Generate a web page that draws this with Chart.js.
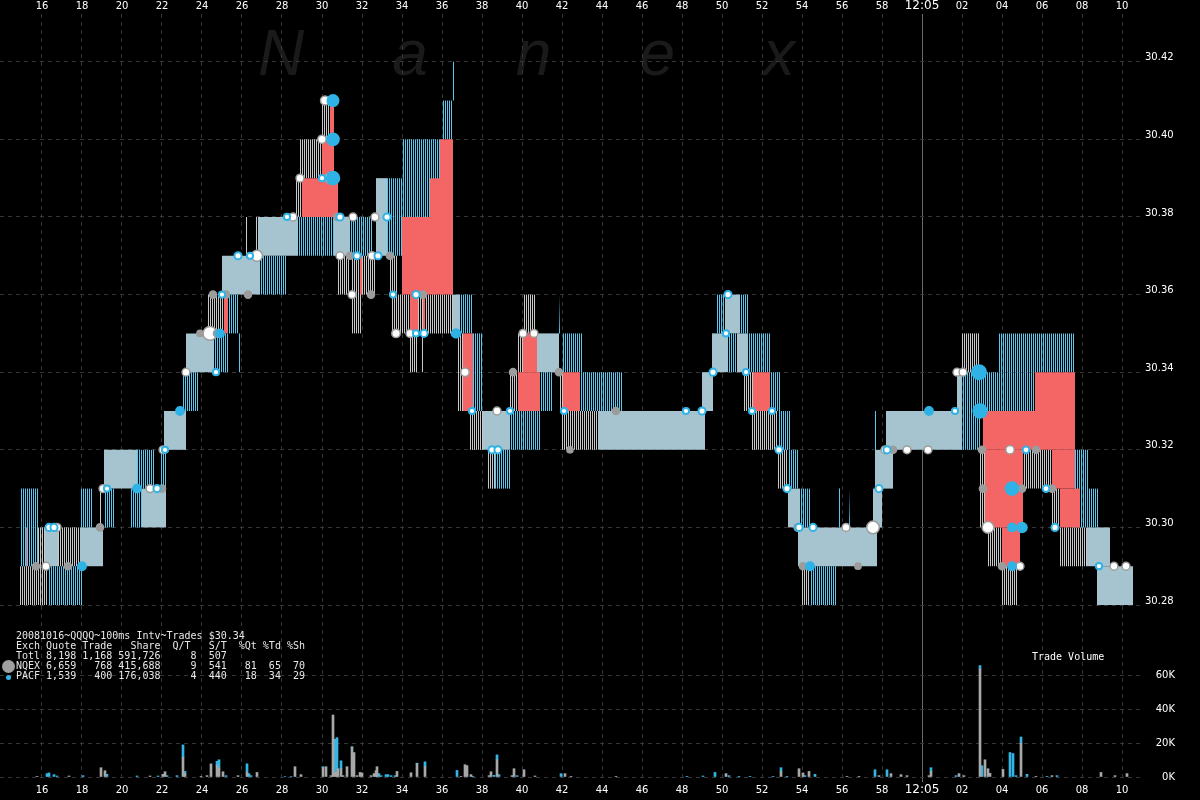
<!DOCTYPE html>
<html>
<head>
<meta charset="utf-8">
<script src="https://cdn.jsdelivr.net/npm/chart.js@4.4.1/dist/chart.umd.min.js"></script>
<style>
html, body { margin: 0; padding: 0; background: #000; }
#wrap { position: relative; width: 1200px; height: 800px; overflow: hidden; background: #000; }
#mark { position: absolute; left: 258px; top: 21px; font: italic 64px/64px "Liberation Sans", sans-serif; color: #1a1a1a; letter-spacing: 88px; white-space: nowrap; }
canvas { position: absolute; left: 0; top: 0; }
#info { position: absolute; left: 16px; top: 631px; margin: 0; font: 10px/10px "DejaVu Sans Mono", monospace; color: #e8e8e8; white-space: pre; }
#volTitle { position: absolute; left: 1032px; top: 652px; font: 10px/10px "DejaVu Sans Mono", monospace; color: #fff; }
.dot { position: absolute; border-radius: 50%; }
</style>
</head>
<body>
<div id="wrap">
  <div id="mark">Nanex</div>
  <canvas id="chart" width="1200" height="800"></canvas>
  <pre id="info">20081016~QQQQ~100ms Intv~Trades $30.34
Exch Quote Trade   Share  Q/T   S/T  %Qt %Td %Sh
Totl 8,198 1,168 591,726     8  507
NQEX 6,659   768 415,688     9  541   81  65  70
PACF 1,539   400 176,038     4  440   18  34  29</pre>
  <div class="dot" style="left:2px;top:660px;width:13px;height:13px;background:#a0a0a0"></div>
  <div class="dot" style="left:6px;top:675px;width:5px;height:5px;background:#33b5e5"></div>
  <div id="volTitle">Trade Volume</div>
</div>
<script>
// time = seconds after 12:04:00, prices in dollars

const timeTicks = [16, 18, 20, 22, 24, 26, 28, 30, 32, 34, 36, 38, 40, 42, 44, 46, 48, 50, 52, 54, 56, 58, 60, 62, 64, 66, 68, 70];
const timeLabels = ['16', '18', '20', '22', '24', '26', '28', '30', '32', '34', '36', '38', '40', '42', '44', '46', '48', '50', '52', '54', '56', '58', '12:05', '02', '04', '06', '08', '10'];
const priceTicks = [30.28, 30.30, 30.32, 30.34, 30.36, 30.38, 30.40, 30.42];
const volumeTicks = [0, 20000, 40000, 60000];
const volumeLabels = ['0K', '20K', '40K', '60K'];

// quote ranges [from, to, low, high]
const nqexQuotes = [
  [14.90, 16.25, 30.28, 30.29], [15.80, 16.15, 30.29, 30.30], [16.80, 17.90, 30.29, 30.30],
  [18.90, 18.95, 30.30, 30.31], [24.30, 25.05, 30.35, 30.36], [26.20, 26.30, 30.37, 30.38],
  [26.70, 26.80, 30.37, 30.38], [28.65, 29.00, 30.38, 30.39], [28.90, 30.00, 30.39, 30.40],
  [30.00, 30.40, 30.40, 30.41], [30.45, 30.50, 30.41, 30.42], [30.80, 31.40, 30.36, 30.37],
  [31.50, 32.00, 30.35, 30.37], [32.00, 32.65, 30.36, 30.37], [33.40, 33.75, 30.36, 30.37],
  [33.50, 34.40, 30.35, 30.36], [34.80, 36.55, 30.35, 30.36], [34.40, 34.75, 30.34, 30.35],
  [34.95, 35.05, 30.34, 30.35], [36.75, 37.05, 30.33, 30.35], [37.40, 38.05, 30.32, 30.33],
  [38.30, 38.65, 30.31, 30.32], [38.75, 38.80, 30.33, 30.34], [39.40, 39.80, 30.33, 30.34],
  [39.75, 40.05, 30.34, 30.35], [40.05, 40.65, 30.35, 30.36], [41.90, 42.05, 30.33, 30.34],
  [42.00, 43.80, 30.32, 30.33], [51.05, 51.55, 30.33, 30.34], [51.50, 52.80, 30.32, 30.33],
  [52.80, 53.30, 30.31, 30.32], [54.00, 54.40, 30.28, 30.29], [62.00, 62.90, 30.34, 30.35],
  [62.90, 63.15, 30.30, 30.32], [63.30, 64.00, 30.29, 30.30], [64.00, 64.80, 30.28, 30.29],
  [65.05, 66.50, 30.31, 30.32], [66.50, 66.90, 30.30, 30.31], [66.90, 68.25, 30.29, 30.30]
];

const pacfQuotes = [
  [14.95, 15.80, 30.29, 30.31], [16.30, 18.00, 30.28, 30.29], [17.95, 18.50, 30.30, 30.31],
  [19.15, 19.65, 30.30, 30.31], [20.45, 21.00, 30.30, 30.31], [20.75, 21.60, 30.31, 30.32],
  [21.90, 22.25, 30.31, 30.32], [23.05, 23.80, 30.33, 30.34], [24.60, 25.30, 30.34, 30.35],
  [25.30, 25.85, 30.35, 30.36], [25.85, 25.90, 30.34, 30.35], [26.90, 28.25, 30.36, 30.37],
  [28.80, 30.60, 30.37, 30.38], [31.40, 32.55, 30.37, 30.38], [33.25, 34.00, 30.37, 30.39],
  [34.05, 35.90, 30.38, 30.40], [36.00, 36.55, 30.40, 30.41], [36.55, 36.60, 30.41, 30.42],
  [36.90, 37.55, 30.35, 30.36], [37.55, 38.05, 30.33, 30.35], [38.65, 39.40, 30.31, 30.32],
  [39.40, 40.90, 30.32, 30.33], [40.90, 41.50, 30.33, 30.34], [41.85, 41.90, 30.35, 30.36],
  [42.05, 43.00, 30.34, 30.35], [42.90, 45.00, 30.33, 30.34], [49.75, 50.15, 30.35, 30.36],
  [50.30, 50.75, 30.34, 30.35], [50.90, 51.30, 30.35, 30.36], [51.30, 52.40, 30.34, 30.35],
  [52.40, 52.90, 30.33, 30.34], [52.80, 53.40, 30.32, 30.33], [53.30, 53.80, 30.31, 30.32],
  [53.90, 54.40, 30.30, 30.31], [54.40, 55.75, 30.28, 30.29], [55.85, 55.90, 30.30, 30.31],
  [56.35, 56.40, 30.30, 30.31], [57.65, 57.70, 30.32, 30.33], [62.00, 62.90, 30.32, 30.34],
  [62.90, 65.65, 30.33, 30.34], [63.80, 67.65, 30.34, 30.35], [67.65, 68.30, 30.30, 30.32],
  [68.30, 68.80, 30.30, 30.31]
];

// both exchanges quoting the same range
const sharedQuotes = [
  [16.15, 16.80, 30.29, 30.30], [17.90, 19.05, 30.29, 30.30], [19.10, 20.75, 30.31, 30.32],
  [21.00, 22.20, 30.30, 30.31], [22.10, 23.20, 30.32, 30.33], [23.20, 24.60, 30.34, 30.35],
  [25.00, 26.90, 30.36, 30.37], [26.80, 28.80, 30.37, 30.38], [30.60, 31.40, 30.37, 30.38],
  [32.70, 33.25, 30.37, 30.39], [36.55, 36.90, 30.35, 30.36], [38.05, 39.40, 30.32, 30.33],
  [40.75, 41.85, 30.34, 30.35], [43.80, 49.15, 30.32, 30.33], [49.00, 49.55, 30.33, 30.34],
  [49.50, 50.30, 30.34, 30.35], [50.75, 51.30, 30.34, 30.35], [50.15, 50.90, 30.35, 30.36],
  [53.30, 53.90, 30.30, 30.31], [53.80, 57.75, 30.29, 30.30], [57.55, 58.00, 30.30, 30.31],
  [57.65, 58.55, 30.31, 30.32], [58.20, 61.80, 30.32, 30.33], [61.75, 62.00, 30.32, 30.34],
  [68.25, 69.40, 30.29, 30.30], [68.75, 70.55, 30.28, 30.29]
];

// crossed markets
const crossedQuotes = [
  [15.20, 15.25, 30.29, 30.30], [25.10, 25.30, 30.35, 30.36], [29.00, 30.80, 30.38, 30.39],
  [30.00, 30.60, 30.39, 30.40], [30.40, 30.60, 30.40, 30.41], [31.90, 32.00, 30.36, 30.37],
  [34.00, 35.40, 30.36, 30.38], [35.40, 35.90, 30.36, 30.39], [35.90, 36.55, 30.36, 30.40],
  [34.40, 34.80, 30.35, 30.36], [35.05, 35.15, 30.35, 30.36], [37.05, 37.55, 30.33, 30.35],
  [39.80, 40.90, 30.33, 30.34], [40.05, 40.75, 30.34, 30.35], [42.05, 42.90, 30.33, 30.34],
  [51.55, 52.40, 30.33, 30.34], [63.05, 67.65, 30.32, 30.33], [65.65, 67.65, 30.33, 30.34],
  [63.15, 65.05, 30.30, 30.32], [64.00, 64.90, 30.29, 30.30], [66.50, 67.65, 30.31, 30.32],
  [66.90, 67.90, 30.30, 30.31]
];

// trades [time, price, shares]
const nqexTrades = [
  [15.70, 30.29, 200], [16.20, 30.29, 300], [17.30, 30.29, 200], [16.75, 30.30, 300], [18.90, 30.30, 200],
  [19.05, 30.31, 300], [21.40, 30.31, 300], [22.00, 30.31, 200], [22.05, 30.32, 300], [23.20, 30.34, 300],
  [23.90, 30.35, 100], [24.40, 30.35, 2000], [24.75, 30.35, 200], [24.55, 30.36, 200], [25.20, 30.36, 200],
  [26.30, 30.36, 200], [26.75, 30.37, 1000], [28.55, 30.38, 300], [28.90, 30.39, 300], [30.40, 30.39, 1000],
  [30.00, 30.40, 400], [30.15, 30.41, 500], [30.75, 30.38, 200], [31.55, 30.38, 300], [32.65, 30.38, 300],
  [30.90, 30.37, 300], [31.40, 30.37, 200], [32.50, 30.37, 300], [33.40, 30.37, 200],
  [31.50, 30.36, 300], [32.45, 30.36, 200], [35.05, 30.36, 200], [33.70, 30.35, 400], [34.40, 30.35, 300],
  [37.15, 30.34, 400], [38.75, 30.33, 300], [39.55, 30.34, 200], [40.05, 30.35, 300], [40.60, 30.35, 300],
  [41.85, 30.34, 200], [42.40, 30.32, 100], [44.70, 30.33, 200],
  [53.80, 30.30, 300], [56.20, 30.30, 300], [57.55, 30.30, 1500], [54.05, 30.29, 200], [56.80, 30.29, 100],
  [58.15, 30.32, 300], [58.55, 30.32, 200], [59.25, 30.32, 300], [60.30, 30.32, 300],
  [61.75, 30.34, 300], [62.05, 30.34, 300], [63.00, 30.32, 200], [64.40, 30.32, 400], [65.70, 30.32, 200],
  [63.05, 30.31, 200], [65.00, 30.31, 200], [66.50, 30.31, 200], [63.30, 30.30, 1200], [65.00, 30.30, 300],
  [64.00, 30.29, 200], [64.90, 30.29, 300], [69.60, 30.29, 300], [70.20, 30.29, 300]
];

const pacfTrades = [
  [16.35, 30.30, 200], [16.60, 30.30, 200], [18.00, 30.29, 300], [19.25, 30.31, 100], [20.75, 30.31, 300],
  [21.75, 30.31, 200], [22.15, 30.32, 100], [22.90, 30.33, 300], [24.70, 30.34, 100], [24.90, 30.35, 300],
  [25.00, 30.36, 100], [25.80, 30.37, 200], [26.40, 30.37, 100], [28.25, 30.38, 100],
  [30.00, 30.39, 100], [30.55, 30.39, 1500], [30.55, 30.40, 1200], [30.55, 30.41, 1000],
  [30.90, 30.38, 200], [33.25, 30.38, 200], [31.75, 30.37, 200], [32.80, 30.37, 200],
  [33.55, 30.36, 100], [34.70, 30.36, 200], [34.70, 30.35, 100], [35.10, 30.35, 200],
  [36.70, 30.35, 400], [37.50, 30.33, 100], [39.40, 30.33, 100], [38.50, 30.32, 200], [38.80, 30.32, 200],
  [42.10, 30.33, 100], [48.20, 30.33, 100], [49.00, 30.33, 200], [49.55, 30.34, 200], [50.30, 30.36, 200],
  [50.20, 30.35, 100], [51.20, 30.34, 100], [51.50, 30.33, 100], [52.50, 30.33, 100], [52.85, 30.32, 200],
  [53.25, 30.31, 200], [53.85, 30.30, 200], [54.55, 30.30, 200], [54.40, 30.29, 300], [57.85, 30.31, 200],
  [58.25, 30.32, 200], [60.35, 30.33, 300], [61.65, 30.33, 100], [62.85, 30.34, 2000], [62.90, 30.33, 1800],
  [65.20, 30.32, 150], [64.50, 30.31, 1500], [66.20, 30.31, 150], [64.50, 30.30, 300], [65.00, 30.30, 600],
  [66.65, 30.30, 200], [64.50, 30.29, 300], [68.85, 30.29, 100]
];

// trade volume [time, shares]
const nqexVolume = [
  [15.75, 400], [17.35, 600], [18.95, 5500], [19.15, 3700], [21.40, 600], [22.05, 1600], [22.15, 3100],
  [23.05, 11800], [23.15, 1800], [23.95, 400], [24.25, 800], [24.45, 7800], [24.75, 6900], [24.85, 5300],
  [25.05, 3100], [25.80, 800], [26.25, 2700], [26.75, 2700], [28.65, 6100], [28.95, 1400], [30.05, 5500],
  [30.20, 6100], [30.45, 800], [30.55, 36700], [30.65, 2700], [30.75, 2700], [30.80, 4900], [30.95, 4900],
  [31.05, 800], [31.25, 6100], [31.50, 17600], [31.60, 14500], [31.75, 800], [31.90, 2700], [32.00, 2400],
  [32.45, 800], [32.60, 2000], [32.70, 3700], [32.75, 6100], [33.75, 3300], [34.45, 2500], [34.75, 7800],
  [35.15, 6100], [36.95, 200], [37.15, 7300], [37.25, 6700], [37.45, 1400], [38.35, 800], [38.45, 3100],
  [38.75, 10200], [39.50, 800], [39.60, 4900], [40.10, 4300], [40.65, 600], [42.15, 2000], [42.45, 200],
  [44.70, 200], [50.20, 2000], [52.95, 3300], [53.85, 4900], [54.05, 2400], [54.35, 3300], [56.25, 200],
  [56.85, 200], [57.85, 800], [58.45, 2000], [58.95, 1400], [59.25, 800], [60.35, 800], [60.45, 3300],
  [61.85, 2000], [62.10, 800], [62.90, 64000], [63.15, 10200], [63.30, 4900], [63.40, 2200], [64.05, 4500],
  [64.95, 20000], [65.70, 200], [66.50, 800], [68.95, 2700], [69.65, 800], [70.25, 2000]
];

const pacfVolume = [
  [16.25, 2000], [16.35, 2400], [16.60, 1400], [16.75, 600], [18.05, 800], [19.25, 1600], [20.75, 600],
  [21.80, 600], [22.25, 800], [22.75, 800], [23.05, 7200], [23.15, 1500], [24.75, 2400], [24.85, 4900],
  [25.20, 800], [26.25, 5100], [26.35, 2000], [26.45, 800], [28.15, 300], [28.45, 300], [30.05, 600],
  [30.65, 19700], [30.75, 20600], [30.95, 4700], [31.50, 400], [32.85, 2000], [32.95, 800], [33.20, 1400],
  [33.30, 1400], [33.45, 800], [33.65, 800], [34.75, 400], [35.15, 2900], [36.75, 3900], [37.55, 200],
  [38.60, 1000], [38.75, 2900], [38.85, 1400], [39.75, 800], [41.95, 2000],
  [48.25, 200], [49.05, 600], [49.65, 2700], [50.35, 800], [50.85, 200], [51.40, 200], [52.55, 200],
  [52.95, 2200], [53.25, 200], [54.15, 800], [54.65, 1600], [57.65, 4300], [58.25, 4300], [60.45, 2200],
  [61.70, 800], [62.90, 2000], [63.00, 6700], [64.40, 14500], [64.55, 13900], [64.70, 800], [64.95, 3700],
  [65.25, 1600], [66.25, 200], [66.75, 800]
];

const canvas = document.getElementById('chart');
const ctx = canvas.getContext('2d');

const DOT_BLUE = '#2fb3e6';
const DOT_GRAY = '#9c9c9c';
const GRID = '#363636';

// vertical stripes across the whole plot width, one quote line every other pixel column
function stripes(color, phase) {
  const g = ctx.createLinearGradient(0, 0, 1200, 0);
  for (let x = 0; x < 1200; x++) {
    const c = (x % 2) === phase ? color : 'rgba(0,0,0,0)';
    g.addColorStop(x / 1200, c);
    g.addColorStop((x + 0.999) / 1200, c);
  }
  return g;
}

function quoteBands(list, fill, order) {
  return list.map(q => ({
    type: 'line',
    yAxisID: 'y',
    data: [{x: q[0], y: q[3]}, {x: q[1], y: q[3]}],
    fill: {value: q[2]},
    backgroundColor: fill,
    borderColor: 'rgba(0,0,0,0)',
    borderWidth: 0,
    pointRadius: 0,
    pointHitRadius: 0,
    order: order
  }));
}

const dotSize = c => c.raw ? 2 + Math.sqrt(c.raw.s) / 9 : 3;

const datasets = [].concat(
  [{
    type: 'scatter',
    yAxisID: 'y',
    data: pacfTrades.map(d => ({x: d[0], y: d[1], s: d[2]})),
    pointRadius: dotSize,
    pointBackgroundColor: c => (c.raw && c.raw.s >= 300) ? DOT_BLUE : '#ffffff',
    pointBorderColor: DOT_BLUE,
    pointBorderWidth: 2,
    order: 0
  }, {
    type: 'scatter',
    yAxisID: 'y',
    data: nqexTrades.map(d => ({x: d[0], y: d[1], s: d[2]})),
    pointRadius: dotSize,
    pointBackgroundColor: c => (c.raw && c.raw.s >= 300) ? '#ffffff' : DOT_GRAY,
    pointBorderColor: DOT_GRAY,
    pointBorderWidth: 1.5,
    order: 1
  }],
  quoteBands(crossedQuotes, '#f46565', 2),
  quoteBands(sharedQuotes, '#a6c4cf', 3),
  quoteBands(pacfQuotes, stripes('#58c8f0', 1), 4),
  quoteBands(nqexQuotes, stripes('#c8c8c8', 0), 5),
  [{
    type: 'bar',
    data: nqexVolume.map(d => ({x: d[0], y: d[1]})),
    yAxisID: 'yV',
    backgroundColor: '#a8a8a8',
    barThickness: 2,
    grouped: false,
    order: 9
  }, {
    type: 'bar',
    data: pacfVolume.map(d => ({x: d[0], y: d[1]})),
    yAxisID: 'yV',
    backgroundColor: '#33b5e5',
    barThickness: 2,
    grouped: false,
    order: 9
  }]
);

const isNoon = c => c.tick && c.tick.value === 60;
const timeLabel = v => { const i = timeTicks.indexOf(v); return i < 0 ? '' : timeLabels[i]; };

// keep the plot area fixed: no automatic label padding
function noPad(s) {
  s.paddingTop = 0;
  s.paddingBottom = 0;
  s.paddingLeft = 0;
  s.paddingRight = 0;
}

function timeAxis(pos) {
  return {
    type: 'linear',
    position: pos,
    min: 13.9,
    max: 70.9,
    offset: false,
    afterBuildTicks: s => { s.ticks = timeTicks.map(v => ({value: v})); },
    afterFit: s => { s.height = pos === 'top' ? 14 : 18; noPad(s); },
    ticks: {
      color: '#ffffff',
      padding: 2,
      autoSkip: false,
      maxRotation: 0,
      font: c => isNoon(c)
        ? {family: 'DejaVu Sans', size: 12, lineHeight: 1.0}
        : {family: 'DejaVu Sans', size: 10, lineHeight: 1.2},
      callback: v => timeLabel(v)
    },
    grid: pos === 'top' ? {display: false, drawTicks: false, offset: false} : {
      color: c => isNoon(c) ? '#6a6a6a' : GRID,
      drawTicks: false,
      offset: false
    },
    border: {display: false, dash: c => isNoon(c) ? [] : [4, 4]}
  };
}

new Chart(ctx, {
  type: 'line',
  data: {datasets: datasets},
  options: {
    responsive: false,
    animation: false,
    events: [],
    layout: {padding: 0, autoPadding: false},
    plugins: {legend: {display: false}, tooltip: {enabled: false}},
    scales: {
      x: timeAxis('bottom'),
      xt: timeAxis('top'),
      y: {
        type: 'linear',
        position: 'right',
        weight: 1,
        min: 30.2344,
        max: 30.4323,
        afterBuildTicks: s => { s.ticks = priceTicks.map(v => ({value: v})); },
        afterFit: s => { s.width = 60; noPad(s); },
        ticks: {
          color: '#ffffff',
          padding: 5,
          labelOffset: -4,
          font: {family: 'DejaVu Sans', size: 10},
          callback: v => v.toFixed(2)
        },
        grid: {color: GRID, drawTicks: false},
        border: {display: false, dash: [4, 4]}
      },
      yV: {
        type: 'linear',
        position: 'right',
        weight: 0,
        stacked: true,
        min: -2961,
        max: 451934,
        afterBuildTicks: s => { s.ticks = volumeTicks.map(v => ({value: v})); },
        afterFit: s => { s.width = 0; noPad(s); },
        ticks: {
          color: '#ffffff',
          mirror: true,
          padding: 35,
          font: {family: 'DejaVu Sans', size: 10},
          callback: v => volumeLabels[volumeTicks.indexOf(v)]
        },
        grid: {color: GRID, drawTicks: false},
        border: {display: false, dash: [4, 4]}
      }
    }
  }
});
</script>
</body>
</html>
